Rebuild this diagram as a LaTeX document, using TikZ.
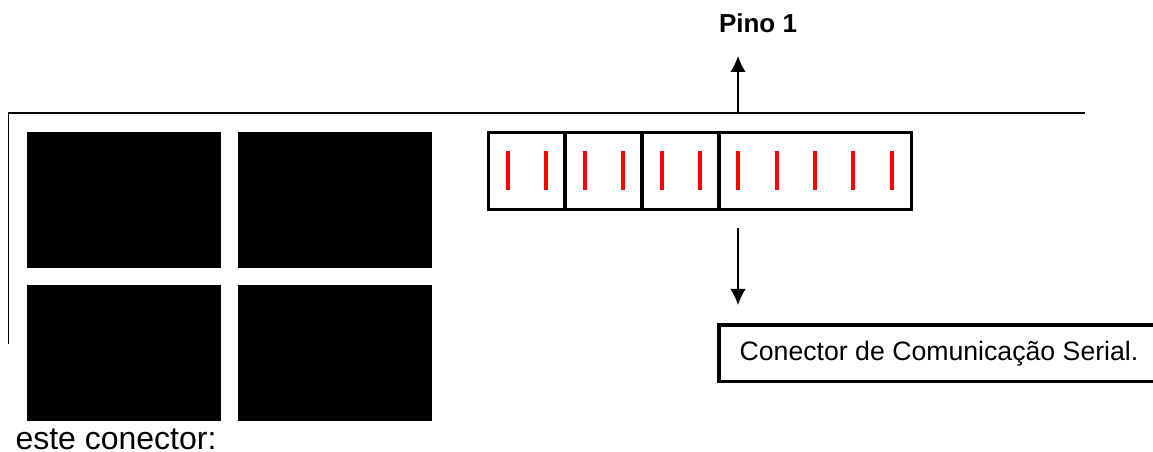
\documentclass[tikz,border=0pt]{standalone}
\usepackage{fontspec}
\setmainfont{Liberation Sans}
\usetikzlibrary{arrows.meta}
\tikzset{
  chip/.style={rectangle,fill,inner sep=0pt,minimum width=146pt,minimum height=102pt},
  slot/.style={rectangle,draw,line width=2.7pt,inner sep=0pt,minimum height=57.5pt},
  pin/.style={red,line width=2.5pt},
  wire/.style={line width=1.4pt},
  pointer/.style={line width=1pt,-{Latex[length=12pt,width=11.5pt]}}
}
\begin{document}
\begin{tikzpicture}[x=0.75pt,y=-0.75pt]
\useasboundingbox (0,0) rectangle (1153,452);
\node (c1) at (124,200) [chip] {};
\node (c2) at (335,200) [chip] {};
\node (c3) at (124,353) [chip] {};
\node (c4) at (335,353) [chip] {};
%
\draw [wire] (1085,113) -- (8.5,113) -- (8.5,344);
%%
\node (s1) at (527,171) [slot,minimum width=57.5pt] {};
\node (s2) at (603.5,171) [slot,minimum width=57.5pt] {};
\node (s3) at (680.5,171) [slot,minimum width=57.5pt] {};
\node (s4) at (815.5,171) [slot,minimum width=144pt] {};
%
\foreach \x in {508,546,585,623,662,700,738,777,815,853,892}
  \draw [pin] (\x,151) -- (\x,190);
%%
\coordinate (top) at (738,113);
\coordinate (tip) at (738,56);
\node (pino) at (758,33) [anchor=base] {\fontsize{19.5pt}{24pt}\selectfont\bfseries Pino 1};
\draw [pointer] (top) -- (tip);
%%
\coordinate (from) at (738,228);
\coordinate (to) at (738,305);
\draw [pointer] (from) -- (to);
%
\draw [line width=2.7pt] (1153,325) -| (719,381.5) -- (1153,381.5);
\node (serial) at (939,360) [anchor=base] {\fontsize{20pt}{24pt}\selectfont Conector de Comunicação Serial.};
%%
\node (note) at (116,449) [anchor=base] {\fontsize{24pt}{28pt}\selectfont este conector:};
\end{tikzpicture}
\end{document}
